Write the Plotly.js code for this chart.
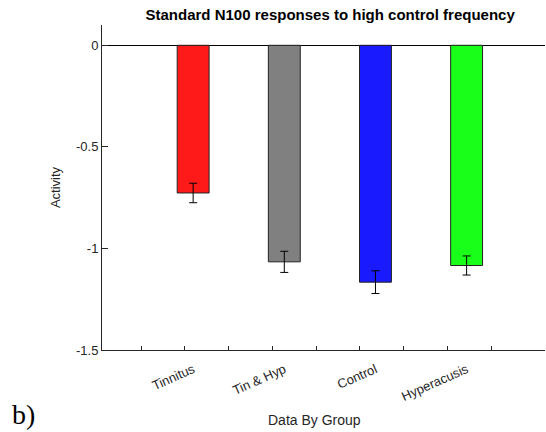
<!DOCTYPE html>
<html><head><meta charset="utf-8">
<script src="https://cdn.plot.ly/plotly-3.0.1.min.js"></script>
<style>html,body{margin:0;padding:0;background:#fff}#chart{width:546px;height:432px}</style>
</head><body><div id="chart"></div>
<script>
const groups = ["Tinnitus", "Tin & Hyp", "Control", "Hyperacusis"];
const positions = [1, 2, 3, 4];
const activity = [-0.727, -1.066, -1.166, -1.084];
const errors = [0.048, 0.052, 0.056, 0.047];
const barColors = ["#ff1a1a", "#808080", "#1a1aff", "#1aff1a"];
const minorTicks = [0.43, 0.91, 1.39, 1.87, 2.35, 2.83, 3.31, 3.79, 4.27];
const yTicks = [0, -0.5, -1, -1.5];
const yTickText = ["0", "-0.5", "-1", "-1.5"];

const axisColor = "#262626";
const fam = "Liberation Sans, Arial, sans-serif";

const traces = [{
  type: "bar", x: positions, y: activity, width: 0.35,
  marker: {color: barColors, line: {color: "#222", width: 1}},
  error_y: {type: "data", array: errors, visible: true, color: "#000", thickness: 1, width: 4},
  hoverinfo: "none", showlegend: false
}, {
  type: "scatter", x: [], y: [], xaxis: "x2", yaxis: "y", showlegend: false
}];

const layout = {
  width: 546, height: 432,
  margin: {l: 102, r: 1, t: 25, b: 82},
  paper_bgcolor: "#fff", plot_bgcolor: "#fff",
  font: {family: fam, size: 13, color: axisColor},
  title: {text: "<b>Standard N100 responses to high control frequency</b>",
          font: {family: fam, size: 15, color: "#000"},
          x: 0.515, xref: "paper", xanchor: "center", y: 0.966, yref: "container", yanchor: "middle"},
  xaxis: {range: [0, 4.86], tickvals: positions, ticktext: groups, tickangle: -24,
          ticks: "", ticklabelstandoff: 6, showline: true, linecolor: axisColor, linewidth: 1, showgrid: false, zeroline: false,
          tickfont: {family: fam, size: 13, color: axisColor}},
  xaxis2: {overlaying: "x", range: [0, 4.86], tickvals: minorTicks, ticks: "inside", ticklen: 4, tickcolor: axisColor,
           showticklabels: false, showline: false, showgrid: false, zeroline: false, side: "bottom", anchor: "y"},
  yaxis: {range: [-1.5, 0.1], tickvals: yTicks, ticktext: yTickText, ticks: "inside", ticklen: 6, tickcolor: axisColor,
          showline: true, linecolor: axisColor, linewidth: 1, showgrid: false,
          zeroline: true, zerolinecolor: "#000", zerolinewidth: 1,
          tickfont: {family: fam, size: 13, color: axisColor},
          title: {text: "Activity", font: {family: fam, size: 13, color: axisColor}, standoff: 12}},
  annotations: [
    {text: "Data By Group", xref: "paper", yref: "paper", x: 0.479, y: -0.215, xanchor: "center", yanchor: "middle",
     showarrow: false, font: {family: fam, size: 14, color: axisColor}},
    {text: "b)", xref: "paper", yref: "paper", x: -0.205, y: -0.25, xanchor: "left", yanchor: "bottom",
     borderpad: 0, showarrow: false, font: {family: "Liberation Serif, Times New Roman, serif", size: 28, color: "#000"}}
  ]
};
Plotly.newPlot("chart", traces, layout, {displayModeBar: false, staticPlot: true});
</script></body></html>
